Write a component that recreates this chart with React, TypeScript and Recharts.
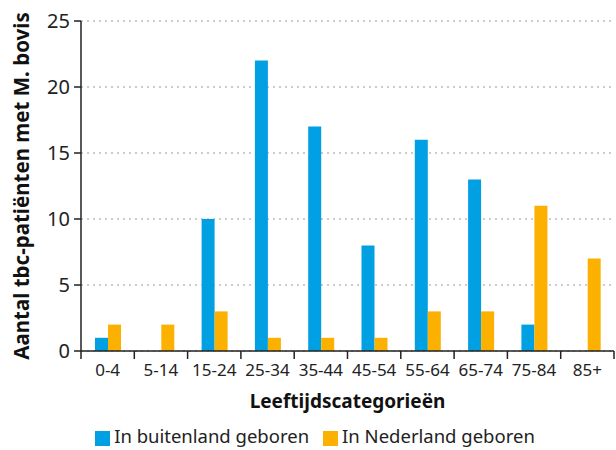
import { BarChart, Bar, XAxis, YAxis, CartesianGrid, Legend } from 'recharts';

const categories = ['0-4', '5-14', '15-24', '25-34', '35-44', '45-54', '55-64', '65-74', '75-84', '85+'];
const buitenland = [1, 0, 10, 22, 17, 8, 16, 13, 2, 0];
const nederland = [2, 2, 3, 1, 1, 1, 3, 3, 11, 7];
const yTicks = [0, 5, 10, 15, 20, 25];

const BLUE = '#00A0E2';
const ORANGE = '#FCB000';
const FONT = '"Noto Sans", sans-serif';

const data = categories.map((cat, i) => ({
    cat,
    buitenland: buitenland[i],
    nederland: nederland[i],
}));

// tick label in the middle, tick mark on the category borders
function CategoryTick(props: any) {
    const { x, y, payload, index, visibleTicksCount } = props;
    const half = payload.offset || 0;
    const last = index === visibleTicksCount - 1;
    return (
        <g>
            <line x1={x - half} x2={x - half} y1={y} y2={y + 8} stroke="#222" strokeWidth={1.5} />
            {last && <line x1={x + half} x2={x + half} y1={y} y2={y + 8} stroke="#222" strokeWidth={1.5} />}
            <text x={x} y={y + 25} textAnchor="middle" fontSize={17} fill="#222" fontFamily={FONT}>
                {payload.value}
            </text>
        </g>
    );
}

function YTitle(props: any) {
    const vb = props.viewBox || {};
    const cx = vb.x + 21;
    const cy = vb.y + vb.height / 2;
    return (
        <text
            x={cx}
            y={cy}
            transform={`rotate(-90, ${cx}, ${cy})`}
            textAnchor="middle"
            dominantBaseline="central"
            fontSize={20.5}
            fontWeight="bold"
            fill="#111"
            fontFamily={FONT}
        >
            Aantal tbc-patiënten met M. bovis
        </text>
    );
}

export default function App() {
    return (
        <div style={{ position: 'absolute', left: 0, top: 0, width: 616, height: 450, background: '#fff' }}>
            <BarChart
                width={616}
                height={450}
                data={data}
                margin={{ top: 21, right: 2, left: 0, bottom: 0 }}
                barGap={0}
                barSize={13}
            >
                <CartesianGrid vertical={false} strokeDasharray="2 4" stroke="#999" />
                <XAxis
                    dataKey="cat"
                    tickLine={false}
                    tickSize={0}
                    tickMargin={0}
                    height={71}
                    axisLine={{ stroke: '#222', strokeWidth: 1.5 }}
                    tick={<CategoryTick />}
                    interval={0}
                    label={{
                        value: 'Leeftijdscategorieën',
                        position: 'insideBottom',
                        offset: 14,
                        style: { fontSize: 19, fontWeight: 'bold', fill: '#111', fontFamily: FONT },
                    }}
                />
                <YAxis
                    width={81}
                    domain={[0, 25]}
                    ticks={yTicks}
                    interval={0}
                    tickSize={7}
                    tickMargin={4}
                    tickLine={{ stroke: '#222', strokeWidth: 1.5 }}
                    axisLine={{ stroke: '#222', strokeWidth: 1.5 }}
                    tick={{ fontSize: 20, fill: '#222', fontFamily: FONT }}
                    label={<YTitle />}
                />
                <Legend
                    verticalAlign="bottom"
                    align="center"
                    iconType="square"
                    iconSize={15}
                    itemSorter="dataKey"
                    wrapperStyle={{
                        fontFamily: FONT,
                        fontSize: 18.5,
                        height: 28,
                        lineHeight: '28px',
                        paddingLeft: 30,
                        boxSizing: 'border-box',
                    }}
                    formatter={(value: string) => <span style={{ color: '#222', marginRight: 4 }}>{value}</span>}
                />
                <Bar dataKey="buitenland" name="In buitenland geboren" fill={BLUE} isAnimationActive={false} />
                <Bar dataKey="nederland" name="In Nederland geboren" fill={ORANGE} isAnimationActive={false} />
            </BarChart>
        </div>
    );
}
